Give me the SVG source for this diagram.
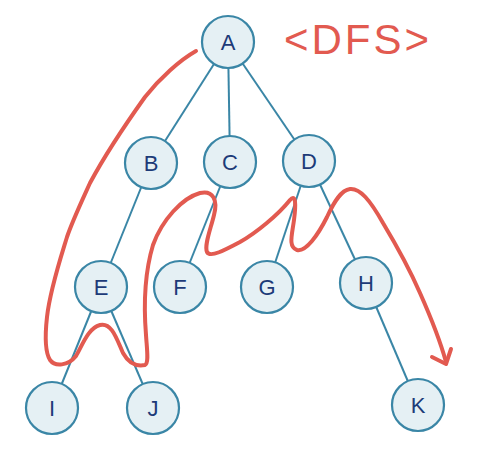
<svg xmlns="http://www.w3.org/2000/svg" width="481" height="450" viewBox="0 0 481 450">
<style>
.edge{stroke:#3a86a6;stroke-width:2;fill:none}
.node circle{fill:#e5f0f4;stroke:#3a86a6;stroke-width:2.2}
.node text{font-family:"Liberation Sans",Arial,sans-serif;font-size:22px;fill:#1d3b78;text-anchor:middle;dominant-baseline:central}
.trace{stroke:#e25a50;stroke-width:4;fill:none;stroke-linecap:round;stroke-linejoin:round}
.title{font-family:"Liberation Sans",Arial,sans-serif;font-size:42px;fill:#e25a50;letter-spacing:3px}
</style>
<rect width="481" height="450" fill="#ffffff"/>
<g id="connectors">
<line class="edge" x1="228" y1="42" x2="151" y2="163"/>
<line class="edge" x1="228" y1="42" x2="230" y2="162"/>
<line class="edge" x1="228" y1="42" x2="309" y2="161"/>
<line class="edge" x1="151" y1="163" x2="101" y2="287"/>
<line class="edge" x1="230" y1="162" x2="180" y2="287"/>
<line class="edge" x1="309" y1="161" x2="267" y2="287"/>
<line class="edge" x1="309" y1="161" x2="366" y2="283"/>
<line class="edge" x1="101" y1="287" x2="52" y2="408"/>
<line class="edge" x1="101" y1="287" x2="153" y2="408"/>
<line class="edge" x1="366" y1="283" x2="418" y2="405"/>
</g>
<g id="A" class="node"><circle cx="228" cy="42" r="26"/><text x="228" y="42">A</text></g>
<g id="B" class="node"><circle cx="151" cy="163" r="26"/><text x="151" y="163">B</text></g>
<g id="C" class="node"><circle cx="230" cy="162" r="26"/><text x="230" y="162">C</text></g>
<g id="D" class="node"><circle cx="309" cy="161" r="26"/><text x="309" y="161">D</text></g>
<g id="E" class="node"><circle cx="101" cy="287" r="26"/><text x="101" y="287">E</text></g>
<g id="F" class="node"><circle cx="180" cy="287" r="26"/><text x="180" y="287">F</text></g>
<g id="G" class="node"><circle cx="267" cy="287" r="26"/><text x="267" y="287">G</text></g>
<g id="H" class="node"><circle cx="366" cy="283" r="26"/><text x="366" y="283">H</text></g>
<g id="I" class="node"><circle cx="52" cy="408" r="26"/><text x="52" y="408">I</text></g>
<g id="J" class="node"><circle cx="153" cy="408" r="26"/><text x="153" y="408">J</text></g>
<g id="K" class="node"><circle cx="418" cy="405" r="26"/><text x="418" y="405">K</text></g>
<g id="dfs-trace">
<path class="trace" d="M196,51 C180,60 160,78 145,97 C125,125 105,155 90,183 C80,205 72,222 67,237 C60,260 50,290 47,317 C45,335 45,352 50,360 C55,367 68,366 76,356 C82,346 88,328 100,325 C112,322 117,340 123,353 C128,362 135,367 145,365 C149,363 147,350 146,335 C144,310 144,275 153,245 C162,220 182,198 200,193 C213,190 218,200 214,215 C211,228 204,245 207,252 C210,258 225,250 240,242 C256,233 278,215 290,200 C296,193 296,205 294,220 C292,235 288,247 297,250 C306,252 318,235 327,217 C334,202 341,190 350,189 C360,188 370,200 383,223 C395,243 410,270 420,293 C432,320 440,340 446,362"/>
<path class="trace" d="M432,357 L446,364 L451,349"/>
</g>
<text class="title" x="284" y="54">&lt;DFS&gt;</text>
</svg>
